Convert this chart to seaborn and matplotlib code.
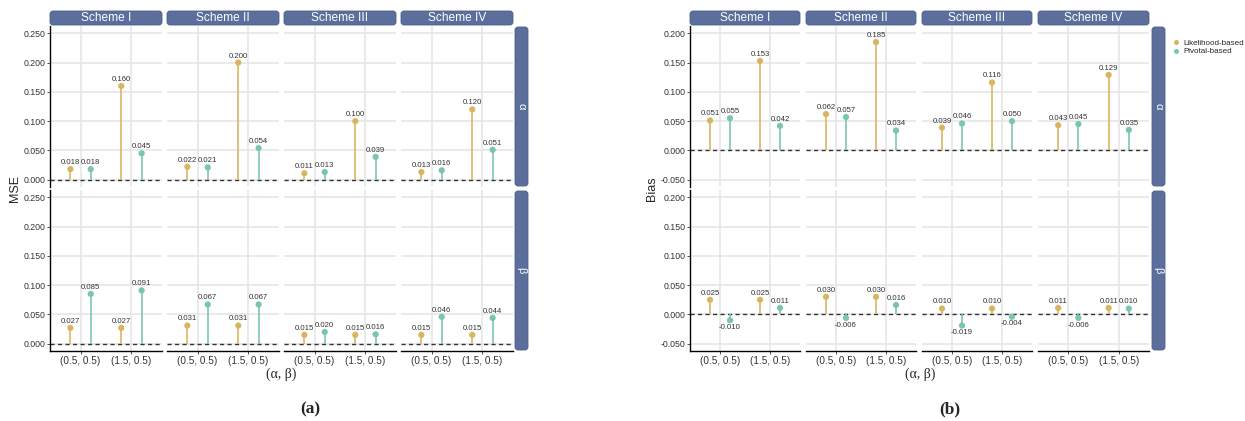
import numpy as np
import pandas as pd
import matplotlib
matplotlib.use("Agg")
import matplotlib.pyplot as plt
import matplotlib.transforms as mtransforms
from matplotlib.patches import FancyBboxPatch
from matplotlib.ticker import FormatStrFormatter
import seaborn as sns

# ---------------------------------------------------------------- data
schemes = ["Scheme I", "Scheme II", "Scheme III", "Scheme IV"]
settings = ["(0.5, 0.5)", "(1.5, 0.5)"]
methods = ["Likelihood-based", "Pivotal-based"]
params = ["α", "β"]

# values listed scheme by scheme, (0.5, 0.5) then (1.5, 0.5)
mse_alpha_lik = [0.018, 0.160, 0.022, 0.200, 0.011, 0.100, 0.013, 0.120]
mse_alpha_piv = [0.018, 0.045, 0.021, 0.054, 0.013, 0.039, 0.016, 0.051]
mse_beta_lik = [0.027, 0.027, 0.031, 0.031, 0.015, 0.015, 0.015, 0.015]
mse_beta_piv = [0.085, 0.091, 0.067, 0.067, 0.020, 0.016, 0.046, 0.044]

bias_alpha_lik = [0.051, 0.153, 0.062, 0.185, 0.039, 0.116, 0.043, 0.129]
bias_alpha_piv = [0.055, 0.042, 0.057, 0.034, 0.046, 0.050, 0.045, 0.035]
bias_beta_lik = [0.025, 0.025, 0.030, 0.030, 0.010, 0.010, 0.011, 0.011]
bias_beta_piv = [-0.010, 0.011, -0.006, 0.016, -0.019, -0.004, -0.006, 0.010]

mse_breaks = [0.0, 0.05, 0.10, 0.15, 0.20, 0.25]
bias_breaks = [-0.05, 0.0, 0.05, 0.10, 0.15, 0.20]


def long_frame(alpha_lik, alpha_piv, beta_lik, beta_piv):
    rows = []
    series = {("α", methods[0]): alpha_lik, ("α", methods[1]): alpha_piv,
              ("β", methods[0]): beta_lik, ("β", methods[1]): beta_piv}
    for (p, m), vals in series.items():
        k = 0
        for s in schemes:
            for st in settings:
                rows.append(dict(param=p, method=m, scheme=s, setting=st, value=vals[k]))
                k += 1
    return pd.DataFrame(rows)


mse_df = long_frame(mse_alpha_lik, mse_alpha_piv, mse_beta_lik, mse_beta_piv)
bias_df = long_frame(bias_alpha_lik, bias_alpha_piv, bias_beta_lik, bias_beta_piv)

# ---------------------------------------------------------------- style
sns.set_style("white")
plt.rcParams["font.family"] = ["Liberation Sans", "DejaVu Sans"]
plt.rcParams["axes.unicode_minus"] = False

palette = {"Likelihood-based": "#D9B560", "Pivotal-based": "#79C6A9"}
dodge = {"Likelihood-based": -0.2, "Pivotal-based": 0.2}
strip_fill = "#5B6E9C"
strip_edge = "#4D5F8A"

W, H = 1245, 421
fig = plt.figure(figsize=(W / 100, H / 100), dpi=100)
ident = mtransforms.IdentityTransform()


def fbox(x0, y0, x1, y1):
    return [x0 / W, 1 - y1 / H, (x1 - x0) / W, (y1 - y0) / H]


def strip(x0, y0, x1, y1, text, rot=0, size=8.6):
    p = FancyBboxPatch((x0, H - y1), x1 - x0, y1 - y0,
                       boxstyle="round,pad=0,rounding_size=3",
                       facecolor=strip_fill, edgecolor=strip_edge, lw=0.6,
                       transform=ident)
    fig.add_artist(p)
    fig.text((x0 + x1) / 2 / W, 1 - (y0 + y1) / 2 / H, text, color="white",
             ha="center", va="center", rotation=rot, fontsize=size)


def draw_block(df, cols, rows, strip_x, ylim, breaks, ylabel, ylabel_x,
               xlabel_xy, tag_xy, tag):
    axes = {}
    for r, (param, (y0, y1)) in enumerate(zip(params, rows)):
        for c, (scheme, (x0, x1)) in enumerate(zip(schemes, cols)):
            ax = fig.add_axes(fbox(x0, y0, x1, y1))
            axes[(r, c)] = ax
            d = df[(df.param == param) & (df.scheme == scheme)].copy()
            d["xpos"] = d.setting.map({s: i for i, s in enumerate(settings)}) + d.method.map(dodge)

            ax.set_xlim(-0.6, 1.6)
            ax.set_ylim(*ylim)
            ax.set_xticks(range(len(settings)))
            ax.set_yticks(breaks)
            ax.grid(True, color="#E4E4E4", lw=1.1)
            ax.set_axisbelow(True)
            for sp in ax.spines.values():
                sp.set_visible(False)

            ax.axhline(0, color="#333333", lw=1.0, ls=(0, (3.0, 2.4)), zorder=2)
            ax.vlines(d.xpos, 0, d.value, colors=[palette[m] for m in d.method],
                      lw=1.3, alpha=0.9, zorder=3)
            sns.scatterplot(data=d, x="xpos", y="value", hue="method",
                            palette=palette, hue_order=methods, s=20,
                            edgecolor="none", legend=False, ax=ax, zorder=4)
            for _, row in d.iterrows():
                off = 2.2 if row.value >= 0 else -2.6
                ax.annotate(f"{row.value:.3f}", (row.xpos, row.value),
                            xytext=(0, off), textcoords="offset points",
                            ha="center", va="bottom" if off > 0 else "top",
                            fontsize=5.6, color="#333333", zorder=5)

            ax.set_xlabel("")
            ax.set_ylabel("")
            ax.tick_params(axis="both", length=2, width=0.6, color="#333333",
                           pad=1.5)
            if c == 0:
                ax.spines["left"].set_visible(True)
                ax.spines["left"].set_color("black")
                ax.spines["left"].set_linewidth(1.0)
                ax.yaxis.set_major_formatter(FormatStrFormatter("%.3f"))
                ax.tick_params(axis="y", labelsize=6.3, labelcolor="#333333",
                               left=True)
            else:
                ax.tick_params(axis="y", labelleft=False, left=False)
            if r == 1:
                ax.spines["bottom"].set_visible(True)
                ax.spines["bottom"].set_color("black")
                ax.spines["bottom"].set_linewidth(1.0)
                ax.set_xticklabels(settings)
                ax.tick_params(axis="x", labelsize=7.2, labelcolor="#333333",
                               bottom=True)
            else:
                ax.tick_params(axis="x", labelbottom=False, bottom=False)

    # strips
    for scheme, (x0, x1) in zip(schemes, cols):
        strip(x0, 11, x1, 25, scheme)
    for param, (y0, y1) in zip(params, rows):
        strip(strip_x[0], y0 + 1, strip_x[1], y1 - 1, param, rot=-90, size=8)

    fig.text(ylabel_x / W, 1 - 189 / H, ylabel, rotation=90, ha="center",
             va="center", fontsize=9)
    fig.text(xlabel_xy[0] / W, 1 - xlabel_xy[1] / H, "(α, β)", ha="center",
             va="center", fontsize=10, family=["Liberation Serif", "DejaVu Serif"])
    fig.text(tag_xy[0] / W, 1 - tag_xy[1] / H, tag, ha="center", va="center",
             fontsize=12.5, fontweight="bold",
             family=["Liberation Serif", "DejaVu Serif"])
    return axes


left_axes = draw_block(
    mse_df,
    cols=[(50, 162), (167, 279), (284, 396), (401, 513)],
    rows=[(26, 187), (190, 351)],
    strip_x=(515, 528),
    ylim=(-0.0125, 0.2625), breaks=mse_breaks, ylabel="MSE", ylabel_x=15,
    xlabel_xy=(281, 374), tag_xy=(310, 409), tag="(a)")

right_axes = draw_block(
    bias_df,
    cols=[(690, 800), (806, 916), (922, 1032), (1038, 1149)],
    rows=[(26, 187), (190, 351)],
    strip_x=(1152, 1165),
    ylim=(-0.0625, 0.2125), breaks=bias_breaks, ylabel="Bias", ylabel_x=652,
    xlabel_xy=(920, 374), tag_xy=(950, 409), tag="(b)")

# legend for the method colours
handles = [plt.Line2D([], [], marker="o", ls="none", markersize=3.6,
                      markerfacecolor=palette[m], markeredgecolor="none")
           for m in methods]
fig.legend(handles, methods, loc="upper left",
           bbox_to_anchor=(1173 / W, 1 - 39 / H), frameon=False,
           fontsize=5.8, handlelength=0.8, handletextpad=0.5,
           labelspacing=0.15, borderpad=0, borderaxespad=0)

fig.savefig("out.png", dpi=100, facecolor="white")
